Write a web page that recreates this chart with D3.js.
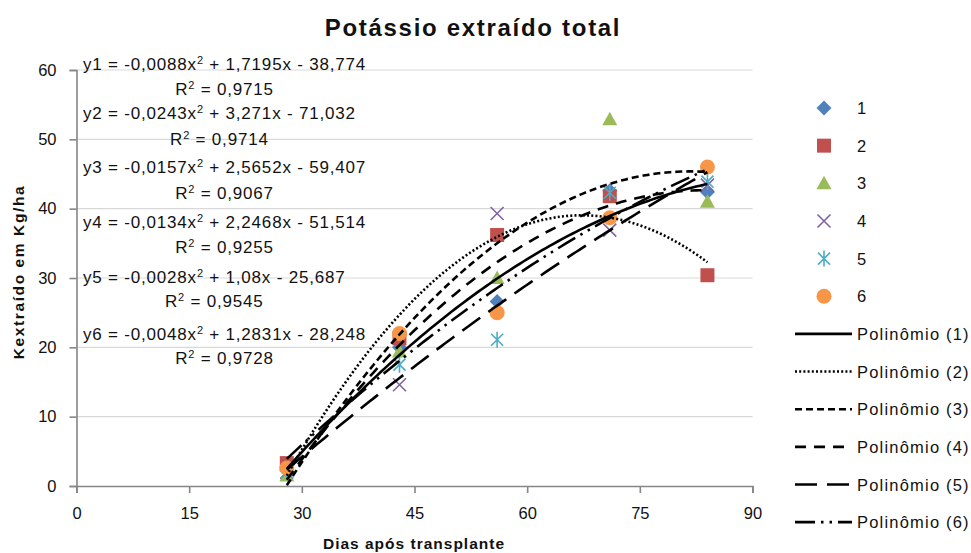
<!DOCTYPE html>
<html>
<head>
<meta charset="utf-8">
<script src="https://cdn.jsdelivr.net/npm/d3@7"></script>
<style>
  body { margin: 0; background: #fff; }
  svg { display: block; }
  text { font-family: "Liberation Sans", Arial, sans-serif; fill: #111; }
</style>
</head>
<body>
<svg id="chart" width="971" height="553"></svg>
<script>
// Days after transplant (sampling dates)
const days = [28, 43, 56, 71, 84];

// Extracted potassium (kg/ha) per treatment
const serie1 = [2.2, 20.0, 26.6, 42.6, 42.4];
const serie2 = [3.3, 21.3, 36.2, 41.8, 30.4];
const serie3 = [1.5, 19.4, 30.0, 52.9, 41.0];
const serie4 = [2.0, 14.6, 39.3, 36.9, 43.4];
const serie5 = [2.0, 17.5, 21.1, 42.3, 43.9];
const serie6 = [2.6, 22.0, 25.0, 38.7, 46.0];
const seriesNames = ["1", "2", "3", "4", "5", "6"];

// Second-order polynomial trendlines: y = a·x² + b·x + c
const trendA = [-0.0088, -0.0243, -0.0157, -0.0134, -0.0028, -0.0048];
const trendB = [1.7195, 3.271, 2.5652, 2.2468, 1.08, 1.2831];
const trendC = [-38.774, -71.032, -59.407, -51.514, -25.687, -28.248];
const trendR2 = [0.9715, 0.9714, 0.9067, 0.9255, 0.9545, 0.9728];
const trendNames = ["Polinômio (1)", "Polinômio (2)", "Polinômio (3)", "Polinômio (4)", "Polinômio (5)", "Polinômio (6)"];

// Axis ticks
const xTicks = [0, 15, 30, 45, 60, 75, 90];
const yTicks = [0, 10, 20, 30, 40, 50, 60];

const allSeries = [serie1, serie2, serie3, serie4, serie5, serie6];
const markerColors = ["#4F81BD", "#C0504D", "#9BBB59", "#8064A2", "#4BACC6", "#F79646"];
const dashes = [null, "2,2.2", "7,4", "11,8", "22,10", "20,6,2.5,6,2.5,6"];

const svg = d3.select("#chart");
const x = d3.scaleLinear().domain([0, 90]).range([76.5, 752.5]);
const y = d3.scaleLinear().domain([0, 60]).range([486, 70]);

// Horizontal gridlines
svg.append("g").selectAll("line")
  .data(yTicks.filter(d => d > 0))
  .join("line")
  .attr("x1", x(0)).attr("x2", x(90))
  .attr("y1", d => y(d)).attr("y2", d => y(d))
  .attr("stroke", "#d9d9d9").attr("stroke-width", 1.2);

// Axes
const xAxis = svg.append("g").attr("transform", `translate(0,${y(0)})`)
  .call(d3.axisBottom(x).tickValues(xTicks).tickSize(7).tickPadding(14).tickFormat(d3.format("d")));
const yAxis = svg.append("g").attr("transform", `translate(${x(0)},0)`)
  .call(d3.axisLeft(y).tickValues(yTicks).tickSize(7).tickPadding(13).tickFormat(d3.format("d")));
[xAxis, yAxis].forEach(g => {
  g.select(".domain").attr("stroke", "#868686").attr("stroke-width", 1.6);
  g.selectAll(".tick line").attr("stroke", "#868686").attr("stroke-width", 1.6);
  g.selectAll(".tick text").attr("font-size", 16.5).attr("fill", "#1a1a1a")
    .style("font-family", '"Liberation Sans", Arial, sans-serif');
});

// Marker shapes
const r = 7.5;
const diamondType = { draw(c) { c.moveTo(0, -r); c.lineTo(r, 0); c.lineTo(0, r); c.lineTo(-r, 0); c.closePath(); } };
const squareType = { draw(c) { const h = 7; c.moveTo(-h, -h); c.lineTo(h, -h); c.lineTo(h, h); c.lineTo(-h, h); c.closePath(); } };
const triangleType = { draw(c) { c.moveTo(0, -7.5); c.lineTo(7.5, 6); c.lineTo(-7.5, 6); c.closePath(); } };
const circleType = { draw(c) { c.moveTo(r, 0); c.arc(0, 0, r, 0, 2 * Math.PI); } };
const timesType = { draw(c) { const h = 6.5; c.moveTo(-h, -h); c.lineTo(h, h); c.moveTo(h, -h); c.lineTo(-h, h); } };
const starType = { draw(c) { const h = 6; c.moveTo(-h, -h); c.lineTo(h, h); c.moveTo(h, -h); c.lineTo(-h, h); c.moveTo(0, -8); c.lineTo(0, 8); } };
const markerTypes = [diamondType, squareType, triangleType, timesType, starType, circleType];
const stroked = [false, false, false, true, true, false];

function drawMarker(g, i, cx, cy) {
  const p = g.append("path")
    .attr("d", d3.symbol().type(markerTypes[i])())
    .attr("transform", `translate(${cx},${cy})`);
  if (stroked[i]) p.attr("fill", "none").attr("stroke", markerColors[i]).attr("stroke-width", 1.6);
  else p.attr("fill", markerColors[i]);
}

// Data markers
const markers = svg.append("g");
allSeries.forEach((vals, i) => {
  vals.forEach((v, j) => drawMarker(markers, i, x(days[j]), y(v)));
});

// Trendline curves from the fitted coefficients
const curveX = d3.range(days[0], days[days.length - 1] + 0.001, 0.5);
const line = d3.line().x(d => x(d[0])).y(d => y(d[1]));
const trends = svg.append("g");
trendA.forEach((a, i) => {
  const pts = curveX.map(t => [t, a * t * t + trendB[i] * t + trendC[i]]);
  trends.append("path")
    .attr("d", line(pts))
    .attr("fill", "none").attr("stroke", "#000").attr("stroke-width", 2.6)
    .attr("stroke-dasharray", dashes[i]);
});

// Trendline equations with R²
const fmt = v => String(v).replace(".", ",");
const eqCenters = [64, 113, 167, 222, 277, 334];
const r2Centers = [89, 139, 193, 247, 301, 358];
const eqG = svg.append("g").attr("font-size", 17).attr("letter-spacing", 0.8);
trendA.forEach((a, i) => {
  const t = eqG.append("text").attr("x", 83).attr("y", eqCenters[i] + 6);
  t.append("tspan").text(`y${i + 1} = ${fmt(a)}x`);
  t.append("tspan").attr("font-size", 11).attr("dy", -6).text("2");
  const c = trendC[i];
  t.append("tspan").attr("dy", 6).text(` + ${fmt(trendB[i])}x ${c < 0 ? "-" : "+"} ${fmt(Math.abs(c))}`);
  const w = t.node().getComputedTextLength();
  const rt = eqG.append("text").attr("x", 83 + w / 2).attr("y", r2Centers[i] + 6).attr("text-anchor", "middle");
  rt.append("tspan").text("R");
  rt.append("tspan").attr("font-size", 11).attr("dy", -6).text("2");
  rt.append("tspan").attr("dy", 6).text(` = ${fmt(trendR2[i])}`);
});

// Legend
const legend = svg.append("g");
const rowY = i => 108 + i * 37.65;
seriesNames.forEach((name, i) => {
  drawMarker(legend, i, 824, rowY(i));
  legend.append("text").attr("x", 857).attr("y", rowY(i) + 6).attr("font-size", 16.5).text(name);
});
trendNames.forEach((name, i) => {
  const yy = rowY(i + 6);
  legend.append("line").attr("x1", 795).attr("x2", 852).attr("y1", yy).attr("y2", yy)
    .attr("stroke", "#000").attr("stroke-width", 2.6).attr("stroke-dasharray", dashes[i]);
  legend.append("text").attr("x", 857).attr("y", yy + 6).attr("font-size", 16.5)
    .attr("letter-spacing", 1.2).text(name);
});

// Titles
svg.append("text").attr("x", 473).attr("y", 36).attr("text-anchor", "middle")
  .attr("font-size", 24).attr("font-weight", "bold").attr("letter-spacing", 1.7)
  .text("Potássio extraído total");
svg.append("text").attr("x", 414).attr("y", 549).attr("text-anchor", "middle")
  .attr("font-size", 15.5).attr("font-weight", "bold").attr("letter-spacing", 1)
  .text("Dias após transplante");
svg.append("text").attr("transform", "translate(24,272) rotate(-90)").attr("text-anchor", "middle")
  .attr("font-size", 15.5).attr("font-weight", "bold").attr("letter-spacing", 1.6)
  .text("Kextraído em Kg/ha");
</script>
</body>
</html>
